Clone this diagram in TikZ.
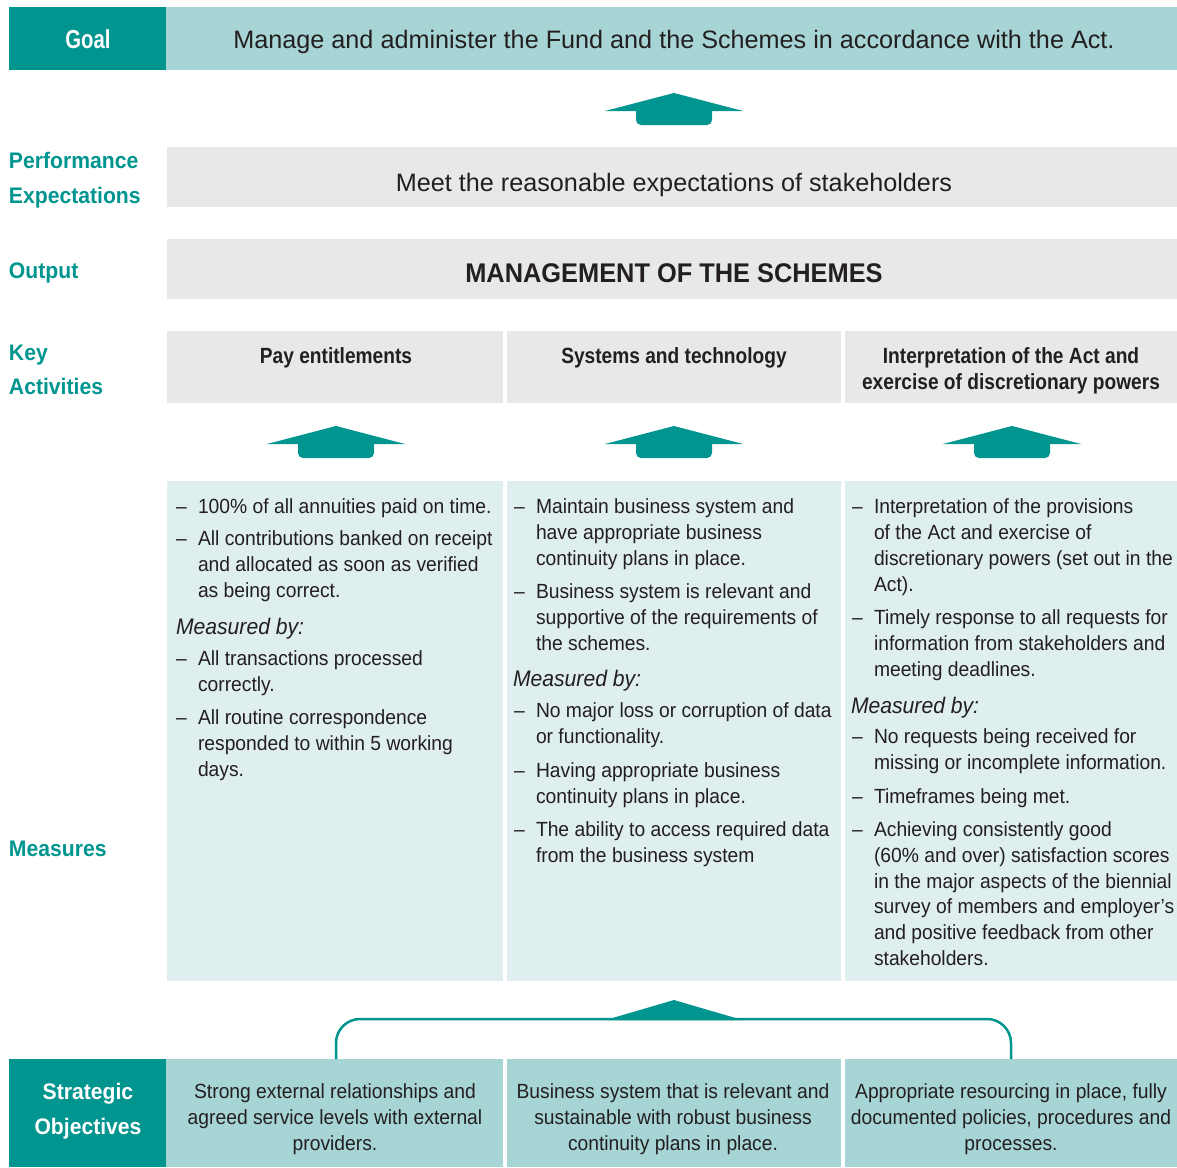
\documentclass[tikz,border=0pt]{standalone}
\usepackage{fontspec}
\setmainfont{Liberation Sans}
\newfontfamily\fA{Liberation Sans}
\newfontfamily\fN{Liberation Sans}[FakeStretch=0.94]
\newfontfamily\fC{Liberation Sans}[FakeStretch=0.78]
\newfontfamily\fH{Liberation Sans}[FakeStretch=0.87]
\definecolor{dteal}{HTML}{00958F}
\definecolor{lteal}{HTML}{A7D4D4}
\definecolor{gbox}{HTML}{E7E8E8}
\definecolor{mbox}{HTML}{DFEEEE}
\definecolor{txt}{HTML}{231F20}
\begin{document}
\begin{tikzpicture}[x=1pt,y=-1pt,inner sep=0pt,outer sep=0pt,
  body/.style={anchor=base west,text=txt,font=\fN\fontsize{20.5}{26}\selectfont},
  meas/.style={anchor=base west,text=txt,font=\fN\itshape\fontsize{22.5}{26}\selectfont},
  lab/.style={anchor=base west,text=dteal,font=\fN\bfseries\fontsize{22.5}{26}\selectfont},
  wlab/.style={anchor=base,text=white,font=\fN\bfseries\fontsize{22.5}{26}\selectfont},
  head/.style={anchor=base,text=txt,font=\fH\bfseries\fontsize{22}{26}\selectfont},
  sotext/.style={anchor=base,text=txt,font=\fN\fontsize{20.5}{26}\selectfont},
  uparrow/.style={fill=dteal}]
\useasboundingbox (0,0) rectangle (1177,1167);
\fill[white] (0,0) rectangle (1177,1167);
% ---- boxes
\fill[dteal] (9,7) rectangle (166,70);
\fill[lteal] (166,7) rectangle (1177,70);
\fill[gbox] (167,147) rectangle (1177,207);
\fill[gbox] (167,239) rectangle (1177,299);
\fill[gbox] (167,331) rectangle (503,403);
\fill[gbox] (507,331) rectangle (841,403);
\fill[gbox] (845,331) rectangle (1177,403);
\fill[mbox] (167,481) rectangle (503,981);
\fill[mbox] (507,481) rectangle (841,981);
\fill[mbox] (845,481) rectangle (1177,981);
\fill[dteal] (9,1059) rectangle (166,1167);
\fill[lteal] (166,1059) rectangle (503,1167);
\fill[lteal] (507,1059) rectangle (841,1167);
\fill[lteal] (845,1059) rectangle (1177,1167);
% ---- up arrows
\foreach \cx/\ty in {674/93,336/426,674/426,1012/426}{
  \fill[uparrow] (\cx-69,\ty+18) -- (\cx,\ty) -- (\cx+69,\ty+18) -- cycle;
  \fill[uparrow,rounded corners=5] (\cx-38,\ty+12) rectangle (\cx+38,\ty+32);
}
% ---- bracket connector
\coordinate (bl) at (336,1059);
\coordinate (br) at (1011,1059);
\coordinate (bt) at (674,1019);
\draw[dteal,line width=2.5,rounded corners=24] (bl) -- (bl |- bt) -- (br |- bt) -- (br);
\fill[dteal] (605,1020.2) -- (674,1000) -- (743,1020.2) -- cycle;
% ---- left labels
\node[wlab,font=\fC\bfseries\fontsize{26}{26}\selectfont] (goal) at (88,48) {Goal};
\node[lab] (pe1) at (9,168) {Performance};
\node[lab] (pe2) at (9,203) {Expectations};
\node[lab] (out) at (9,278) {Output};
\node[lab] (ka1) at (9,360) {Key};
\node[lab] (ka2) at (9,394) {Activities};
\node[lab] (mea) at (9,856) {Measures};
\node[wlab] (so1) at (88,1099) {Strategic};
\node[wlab] (so2) at (88,1134) {Objectives};
% ---- top texts
\node[anchor=base,text=txt,font=\fA\fontsize{25.2}{26}\selectfont] (goaltxt) at (674,48) {Manage and administer the Fund and the Schemes in accordance with the Act.};
\node[anchor=base,text=txt,font=\fA\fontsize{25.2}{26}\selectfont] (petxt) at (674,191) {Meet the reasonable expectations of stakeholders};
\node[anchor=base,text=txt,font=\fN\bfseries\fontsize{27}{26}\selectfont] (outtxt) at (674,282) {MANAGEMENT OF THE SCHEMES};
\node[head] (h1) at (336,363) {Pay entitlements};
\node[head] (h2) at (674,363) {Systems and technology};
\node[head] (h3a) at (1011,363) {Interpretation of the Act and};
\node[head] (h3b) at (1011,389) {exercise of discretionary powers};
% ---- column 1
\foreach \y [count=\i] in {513,545,665,724} \node[body] (ad\i) at (176,\y) {–};
\foreach \y/\t [count=\i] in {513/{100\% of all annuities paid on time.},545/{All contributions banked on receipt},571/{and allocated as soon as verified},597/{as being correct.},665/{All transactions processed},691/{correctly.},724/{All routine correspondence},750/{responded to within 5 working},776/{days.}}
  \node[body] (a\i) at (198,\y) {\t};
\node[meas] (am) at (176,634) {Measured by:};
% ---- column 2
\foreach \y [count=\i] in {513,598,717,777,836} \node[body] (bd\i) at (514,\y) {–};
\foreach \y/\t [count=\i] in {513/{Maintain business system and},539/{have appropriate business},565/{continuity plans in place.},598/{Business system is relevant and},624/{supportive of the requirements of},650/{the schemes.},717/{No major loss or corruption of data},743/{or functionality.},777/{Having appropriate business},803/{continuity plans in place.},836/{The ability to access required data},862/{from the business system}}
  \node[body] (b\i) at (536,\y) {\t};
\node[meas] (bm) at (513,686) {Measured by:};
% ---- column 3
\foreach \y [count=\i] in {513,624,743,803,836} \node[body] (cd\i) at (852,\y) {–};
\foreach \y/\t [count=\i] in {513/{Interpretation of the provisions},539/{of the Act and exercise of},565/{discretionary powers (set out in the},591/{Act).},624/{Timely response to all requests for},650/{information from stakeholders and},676/{meeting deadlines.},743/{No requests being received for},769/{missing or incomplete information.},803/{Timeframes being met.},836/{Achieving consistently good},862/{(60\% and over) satisfaction scores},888/{in the major aspects of the biennial},913/{survey of members and employer’s},939/{and positive feedback from other},965/{stakeholders.}}
  \node[body] (c\i) at (874,\y) {\t};
\node[meas] (cm) at (851,713) {Measured by:};
% ---- strategic objectives
\foreach \y/\t [count=\i] in {1098/{Strong external relationships and},1124/{agreed service levels with external},1150/{providers.}}
  \node[sotext] (s1\i) at (335,\y) {\t};
\foreach \y/\t [count=\i] in {1098/{Business system that is relevant and},1124/{sustainable with robust business},1150/{continuity plans in place.}}
  \node[sotext] (s2\i) at (673,\y) {\t};
\foreach \y/\t [count=\i] in {1098/{Appropriate resourcing in place, fully},1124/{documented policies, procedures and},1150/{processes.}}
  \node[sotext] (s3\i) at (1011,\y) {\t};
\end{tikzpicture}
\end{document}
